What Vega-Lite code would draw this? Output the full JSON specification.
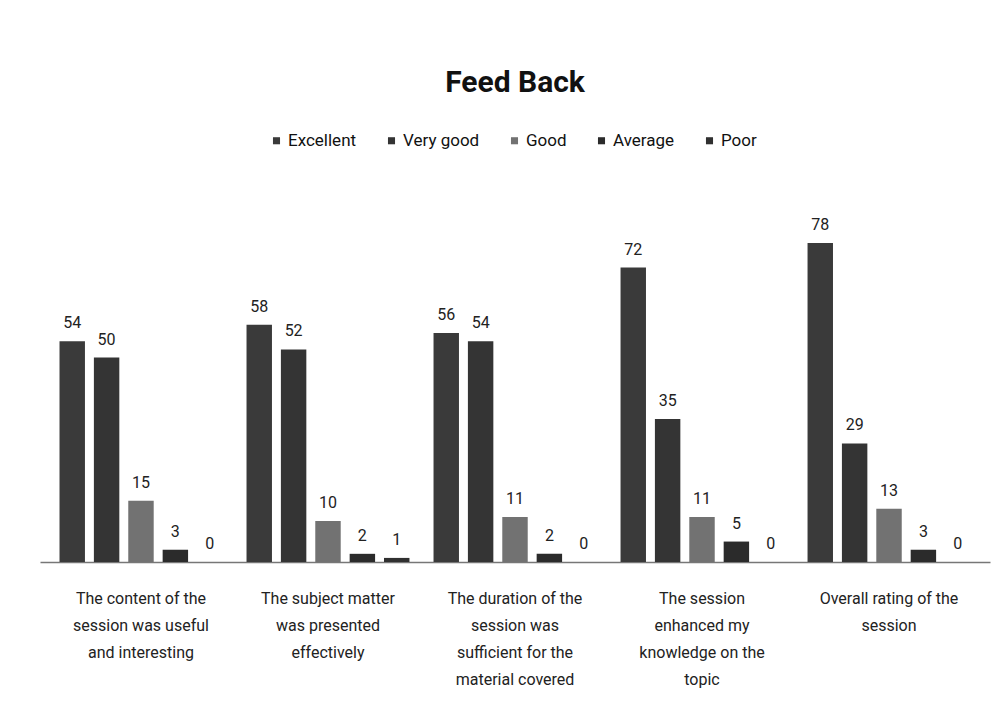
{
  "$schema": "https://vega.github.io/schema/vega-lite/v6.json",
  "width": 950,
  "height": 368,
  "autosize": {"type": "none"},
  "padding": {"left": 40, "top": 194, "right": 2, "bottom": 157},
  "background": "#ffffff",
  "title": {"text": "Feed Back", "anchor": "middle", "fontSize": 30, "font": "Roboto, sans-serif", "fontWeight": "bold", "color": "#111111", "offset": 34},
  "config": {"view": {"stroke": null}, "font": "Roboto, sans-serif"},
  "data": {"values": [
    {"q": "The content of the|session was useful|and interesting", "r": "Excellent", "v": 54},
    {"q": "The content of the|session was useful|and interesting", "r": "Very good", "v": 50},
    {"q": "The content of the|session was useful|and interesting", "r": "Good", "v": 15},
    {"q": "The content of the|session was useful|and interesting", "r": "Average", "v": 3},
    {"q": "The content of the|session was useful|and interesting", "r": "Poor", "v": 0},
    {"q": "The subject matter|was presented|effectively", "r": "Excellent", "v": 58},
    {"q": "The subject matter|was presented|effectively", "r": "Very good", "v": 52},
    {"q": "The subject matter|was presented|effectively", "r": "Good", "v": 10},
    {"q": "The subject matter|was presented|effectively", "r": "Average", "v": 2},
    {"q": "The subject matter|was presented|effectively", "r": "Poor", "v": 1},
    {"q": "The duration of the|session was|sufficient for the|material covered", "r": "Excellent", "v": 56},
    {"q": "The duration of the|session was|sufficient for the|material covered", "r": "Very good", "v": 54},
    {"q": "The duration of the|session was|sufficient for the|material covered", "r": "Good", "v": 11},
    {"q": "The duration of the|session was|sufficient for the|material covered", "r": "Average", "v": 2},
    {"q": "The duration of the|session was|sufficient for the|material covered", "r": "Poor", "v": 0},
    {"q": "The session|enhanced my|knowledge on the|topic", "r": "Excellent", "v": 72},
    {"q": "The session|enhanced my|knowledge on the|topic", "r": "Very good", "v": 35},
    {"q": "The session|enhanced my|knowledge on the|topic", "r": "Good", "v": 11},
    {"q": "The session|enhanced my|knowledge on the|topic", "r": "Average", "v": 5},
    {"q": "The session|enhanced my|knowledge on the|topic", "r": "Poor", "v": 0},
    {"q": "Overall rating of the|session", "r": "Excellent", "v": 78},
    {"q": "Overall rating of the|session", "r": "Very good", "v": 29},
    {"q": "Overall rating of the|session", "r": "Good", "v": 13},
    {"q": "Overall rating of the|session", "r": "Average", "v": 3},
    {"q": "Overall rating of the|session", "r": "Poor", "v": 0}
  ]},
  "encoding": {
    "x": {"field": "q", "type": "nominal", "sort": null, "title": null,
      "scale": {"paddingInner": 0, "paddingOuter": 0.04},
      "axis": {"labelAngle": 0, "labelExpr": "split(datum.label, '|')", "labelFontSize": 16, "labelColor": "#222222", "labelLineHeight": 27, "labelPadding": 28, "ticks": false, "domainColor": "#777777", "domainWidth": 1.5, "labelLimit": 200, "labelBaseline": "top"}},
    "xOffset": {"field": "r", "type": "nominal", "sort": ["Excellent", "Very good", "Good", "Average", "Poor"], "scale": {"paddingInner": 0.26, "paddingOuter": 0.35}},
    "y": {"field": "v", "type": "quantitative", "scale": {"domain": [0, 90]}, "axis": null}
  },
  "layer": [
    {"mark": {"type": "bar"},
      "encoding": {"color": {"field": "r", "type": "nominal", "sort": ["Excellent", "Very good", "Good", "Average", "Poor"],
        "scale": {"domain": ["Excellent", "Very good", "Good", "Average", "Poor"], "range": ["#3a3a3a", "#343434", "#727272", "#2b2b2b", "#303030"]},
        "legend": {"title": null, "orient": "none", "direction": "horizontal", "legendX": 228, "legendY": -62, "symbolType": "square", "symbolSize": 50, "labelFontSize": 17, "labelColor": "#111111", "labelFontWeight": "normal", "columnPadding": 26, "labelOffset": 3}}}},
    {"mark": {"type": "text", "dy": -18, "fontSize": 16, "color": "#222222"},
      "encoding": {"text": {"field": "v", "type": "quantitative"}}}
  ]
}
